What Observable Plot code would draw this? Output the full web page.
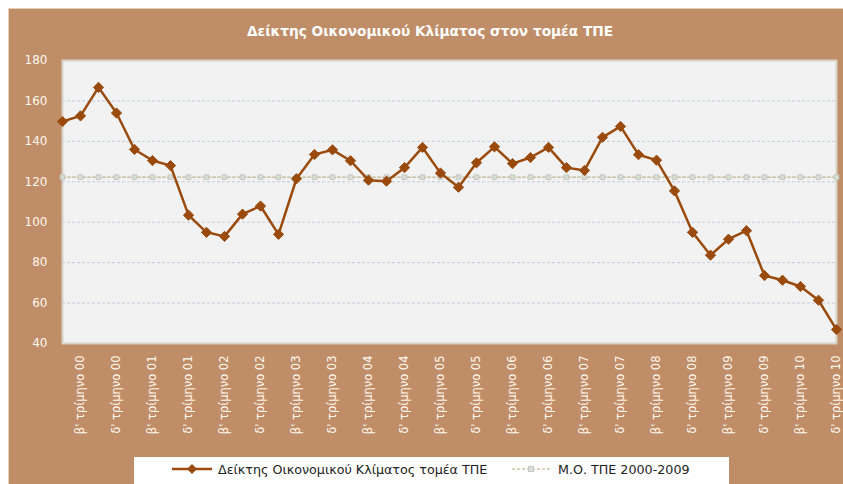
<!DOCTYPE html>
<html>
<head>
<meta charset="utf-8">
<script src="https://cdn.jsdelivr.net/npm/d3@7"></script>
<script src="https://cdn.jsdelivr.net/npm/@observablehq/plot@0.6"></script>
<style>
  body { margin: 0; background: #ffffff; }
  #wrap { position: relative; width: 843px; height: 484px; overflow: hidden; font-family: "DejaVu Sans", sans-serif; }
  #bg { position: absolute; left: 8px; top: 8px; width: 835px; height: 476px; background: #BF8D67; border-top: 1px solid #E4D2BC; border-left: 1px solid #E4D2BC; box-sizing: border-box; }
  #title { position: absolute; left: 17px; width: 826px; top: 23px; text-align: center; color: #ffffff; font-weight: bold; font-size: 13.7px; }
  #chart { position: absolute; left: 0; top: 0; }
  #legend { position: absolute; left: 134px; top: 457px; width: 595px; height: 27px; background: #ffffff; box-sizing: border-box; font-size: 12.7px; color: #222; }
  #legend .item { display: flex; align-items: center; position: absolute; top: 4px; }
  #legend svg { margin-right: 4px; }
</style>
</head>
<body>
<div id="wrap">
  <div id="bg"></div>
  <div id="title"></div>
  <div id="chart"></div>
  <div id="legend"></div>
</div>
<script>
// ---- data ----
const titleText = "Δείκτης Οικονομικού Κλίματος στον τομέα ΤΠΕ";
const seriesName = "Δείκτης Οικονομικού Κλίματος τομέα ΤΠΕ";
const meanName = "Μ.Ο. ΤΠΕ 2000-2009";
const quarterNames = ["α'", "β'", "γ'", "δ'"];
const years = ["00", "01", "02", "03", "04", "05", "06", "07", "08", "09", "10"];
const indexValues = [
  149.8, 152.6, 166.7, 154.0, 136.0, 130.5, 128.0, 103.5, 95.0, 93.0,
  104.0, 108.0, 94.0, 121.5, 133.5, 135.8, 130.4, 120.8, 120.3, 127.0,
  137.0, 124.3, 117.3, 129.4, 137.3, 129.0, 132.0, 137.0, 127.0, 125.6,
  142.0, 147.4, 133.4, 130.7, 115.5, 95.0, 83.7, 91.6, 95.8, 73.6,
  71.3, 68.2, 61.4, 46.9
];
const meanValue = 122.3;
const yTicks = [40, 60, 80, 100, 120, 140, 160, 180];
const gridValues = [60, 80, 100, 120, 140, 160];
const labelledQuarters = ["β'", "δ'"];

// ---- build ----
const categories = [];
const tickLabels = [];
years.forEach(y => quarterNames.forEach(q => {
  const c = `${q} τρίμηνο ${y}`;
  categories.push(c);
  if (labelledQuarters.includes(q)) tickLabels.push(c);
}));
const rows = categories.map((c, i) => ({q: c, v: indexValues[i], m: meanValue}));

document.getElementById("title").textContent = titleText;

const lineColor = "#9A4A0C";
const chart = Plot.plot({
  width: 843,
  height: 450,
  marginLeft: 62,
  marginRight: 7,
  marginTop: 60,
  marginBottom: 107,
  style: {background: "transparent", fontFamily: "DejaVu Sans, sans-serif", color: "#FFF8EE", overflow: "visible"},
  x: {type: "point", domain: categories, padding: 0, axis: null, label: null},
  y: {domain: [40, 180], axis: null, label: null},
  marks: [
    Plot.frame({fill: "#F2F2F2", stroke: "#D8D3C6", strokeWidth: 2}),
    Plot.ruleY(gridValues, {stroke: "#C4CBDD", strokeDasharray: "3,2", strokeWidth: 1}),
    Plot.axisY({ticks: yTicks, tickSize: 0, tickPadding: 15, fontSize: 12, fill: "#FFF8EE", label: null}),
    Plot.axisX({ticks: tickLabels, tickSize: 0, tickPadding: 12, tickRotate: -90, fontSize: 11.5, fill: "#FFF8EE", label: null}),
    Plot.line(rows, {x: "q", y: "m", stroke: "#B5A57A", strokeWidth: 1, strokeDasharray: "3,2"}),
    Plot.dot(rows, {x: "q", y: "m", symbol: "square", r: 2.6, fill: "#D8DDD6", stroke: "#C3CAC2", strokeWidth: 1}),
    Plot.line(rows, {x: "q", y: "v", stroke: lineColor, strokeWidth: 2.5}),
    Plot.dot(rows, {x: "q", y: "v", symbol: "diamond2", r: 4.6, fill: lineColor, stroke: lineColor, strokeWidth: 1})
  ]
});
document.getElementById("chart").appendChild(chart);

// ---- legend ----
const legend = document.getElementById("legend");
function item(left, svgInner, text) {
  const d = document.createElement("div");
  d.className = "item";
  d.style.left = left + "px";
  d.innerHTML = `<svg width="44" height="16">${svgInner}</svg>`;
  const s = document.createElement("span");
  s.textContent = text;
  d.appendChild(s);
  legend.appendChild(d);
}
item(36, `<line x1="2" y1="8" x2="42" y2="8" stroke="${lineColor}" stroke-width="2.5"/><path d="M22 3 L27 8 L22 13 L17 8 Z" fill="${lineColor}"/>`, seriesName);
item(376, `<line x1="2" y1="8" x2="40" y2="8" stroke="#B5A57A" stroke-width="1" stroke-dasharray="3,2"/><rect x="18.5" y="5.5" width="5" height="5" fill="#D8DDD6" stroke="#C3CAC2"/>`, meanName);
</script>
</body>
</html>
